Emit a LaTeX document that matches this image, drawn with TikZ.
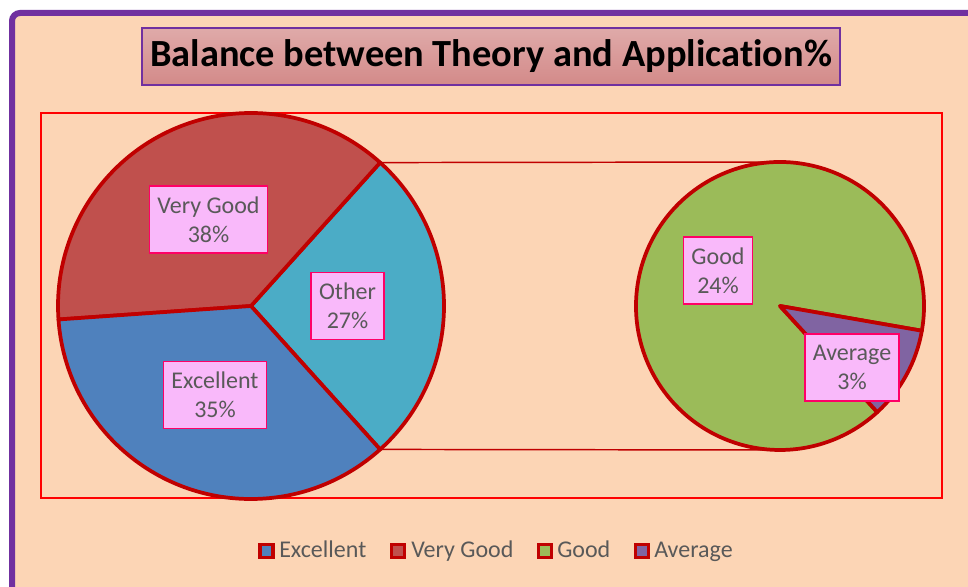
\documentclass[tikz,border=0pt]{standalone}
\usepackage{fontspec}
\setmainfont{Carlito}[Ligatures=NoCommon]
\usetikzlibrary{calc}
\definecolor{peach}{HTML}{FCD5B5}
\definecolor{framepurple}{HTML}{7030A0}
\definecolor{darkred}{HTML}{C00000}
\definecolor{plotred}{HTML}{FF0000}
\definecolor{cExc}{HTML}{4F81BD}
\definecolor{cVG}{HTML}{C0504D}
\definecolor{cOther}{HTML}{4BACC6}
\definecolor{cGood}{HTML}{9BBB59}
\definecolor{cAvg}{HTML}{8064A2}
\definecolor{lblfill}{HTML}{F9B9FA}
\definecolor{lbldraw}{HTML}{FF0066}
\definecolor{txtgray}{HTML}{595959}
\definecolor{titletop}{HTML}{DFAAA9}
\definecolor{titlebot}{HTML}{D38A89}
\tikzset{
  slice/.style={draw=darkred, line width=2.8pt, line join=round},
  lbl/.style={draw=lbldraw, line width=1.1pt, fill=lblfill, text=txtgray,
    align=center, inner xsep=6pt, inner ysep=0pt, minimum height=50.25pt,
    font=\fontsize{18}{21.75}\selectfont},
  connector/.style={draw=darkred, line width=1.1pt},
  legmark/.style={draw=darkred, line width=2.6pt, minimum size=9.5pt, inner sep=0pt},
  legtext/.style={text=txtgray, inner sep=0pt, anchor=base west, font=\fontsize{18}{21.75}\selectfont}
}
\begin{document}
\begin{tikzpicture}[x=0.75pt,y=0.75pt]
\useasboundingbox (0,0) rectangle (968,586);
\clip (0,0) rectangle (968,586);
\fill[white] (0,0) rectangle (968,586);
% outer frame
\draw[fill=peach, draw=framepurple, line width=4.5pt, rounded corners=6] (12,573) rectangle (1000,-30);
% title
\node[draw=framepurple, line width=1.5pt, top color=titletop, bottom color=titlebot,
  minimum width=523.5pt, minimum height=42.75pt, inner sep=0pt,
  font=\bfseries\fontsize{28.8}{34}\selectfont] (title) at (491,529.5) {Balance between Theory and Application\%};
% plot area
\draw[plotred, line width=1.1pt] (41,473) rectangle (942,88);
% pie centers
\coordinate (L) at (251,280);
\coordinate (R) at (780,280);
\coordinate (Ltop) at ($(L)+(48:193)$);
\coordinate (Lbot) at ($(L)+(-48:193)$);
\coordinate (Rtop) at ($(R)+(90:144)$);
\coordinate (Rbot) at ($(R)+(-90:144)$);
% connectors
\draw[connector] (Ltop) -- (Rtop);
\draw[connector] (Lbot) -- (Rbot);
% left pie
\filldraw[slice, fill=cOther] (L) -- ($(L)+(-48:193)$) arc[start angle=-48, end angle=48, radius=193] -- cycle;
\filldraw[slice, fill=cVG] (L) -- ($(L)+(48:193)$) arc[start angle=48, end angle=184, radius=193] -- cycle;
\filldraw[slice, fill=cExc] (L) -- ($(L)+(184:193)$) arc[start angle=184, end angle=312, radius=193] -- cycle;
% right pie
\filldraw[slice, fill=cGood] (R) -- ($(R)+(-9.9:144)$) arc[start angle=-9.9, end angle=312.5, radius=144] -- cycle;
\filldraw[slice, fill=cAvg] (R) -- ($(R)+(-47.5:144)$) arc[start angle=-47.5, end angle=-9.9, radius=144] -- cycle;
% labels
\node[lbl] (lVG) at (208.5,366.5) {Very Good\\38\%};
\node[lbl] (lOther) at (347.5,280) {Other\\27\%};
\node[lbl] (lExc) at (215,191) {Excellent\\35\%};
\node[lbl] (lGood) at (718,315.5) {Good\\24\%};
\node[lbl] (lAvg) at (852,218.5) {Average\\3\%};
% legend
\node[legmark, fill=cExc] (m1) at (266.5,35) {};
\node[legtext] (t1) at (279,28.5) {Excellent};
\node[legmark, fill=cVG] (m2) at (398,35) {};
\node[legtext] (t2) at (411,28.5) {Very Good};
\node[legmark, fill=cGood] (m3) at (545,35) {};
\node[legtext] (t3) at (557,28.5) {Good};
\node[legmark, fill=cAvg] (m4) at (642,35) {};
\node[legtext] (t4) at (654,28.5) {Average};
\end{tikzpicture}
\end{document}
